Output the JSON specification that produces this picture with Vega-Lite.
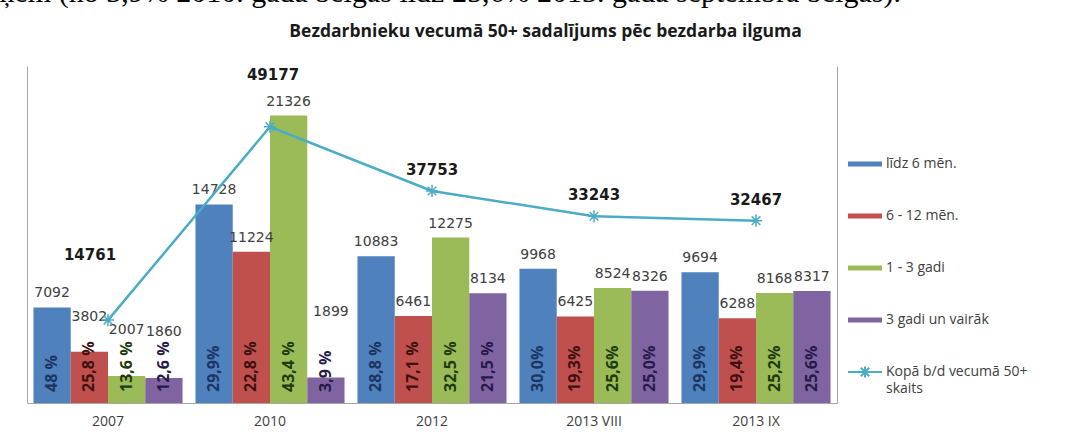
{
  "$schema": "https://vega.github.io/schema/vega-lite/v6.json",
  "width": 810,
  "height": 337,
  "autosize": {"type": "none"},
  "padding": {"left": 27, "top": 66, "right": 239, "bottom": 29},
  "background": "white",
  "config": {"view": {"stroke": null}, "font": "Open Sans"},
  "datasets": {
    "bars": [
      {"cat": "2007", "series": "līdz 6 mēn.", "v": 7092, "pct": "48 %"},
      {"cat": "2007", "series": "6 - 12 mēn.", "v": 3802, "pct": "25,8 %"},
      {"cat": "2007", "series": "1 - 3 gadi", "v": 2007, "pct": "13,6 %"},
      {"cat": "2007", "series": "3 gadi un vairāk", "v": 1860, "pct": "12,6 %"},
      {"cat": "2010", "series": "līdz 6 mēn.", "v": 14728, "pct": "29,9%"},
      {"cat": "2010", "series": "6 - 12 mēn.", "v": 11224, "pct": "22,8 %"},
      {"cat": "2010", "series": "1 - 3 gadi", "v": 21326, "pct": "43,4 %"},
      {"cat": "2010", "series": "3 gadi un vairāk", "v": 1899, "pct": "3,9 %"},
      {"cat": "2012", "series": "līdz 6 mēn.", "v": 10883, "pct": "28,8 %"},
      {"cat": "2012", "series": "6 - 12 mēn.", "v": 6461, "pct": "17,1 %"},
      {"cat": "2012", "series": "1 - 3 gadi", "v": 12275, "pct": "32,5 %"},
      {"cat": "2012", "series": "3 gadi un vairāk", "v": 8134, "pct": "21,5 %"},
      {"cat": "2013 VIII", "series": "līdz 6 mēn.", "v": 9968, "pct": "30,0%"},
      {"cat": "2013 VIII", "series": "6 - 12 mēn.", "v": 6425, "pct": "19,3%"},
      {"cat": "2013 VIII", "series": "1 - 3 gadi", "v": 8524, "pct": "25,6%"},
      {"cat": "2013 VIII", "series": "3 gadi un vairāk", "v": 8326, "pct": "25,0%"},
      {"cat": "2013 IX", "series": "līdz 6 mēn.", "v": 9694, "pct": "29,9%"},
      {"cat": "2013 IX", "series": "6 - 12 mēn.", "v": 6288, "pct": "19,4%"},
      {"cat": "2013 IX", "series": "1 - 3 gadi", "v": 8168, "pct": "25,2%"},
      {"cat": "2013 IX", "series": "3 gadi un vairāk", "v": 8317, "pct": "25,6%"}
    ],
    "total": [
      {"cat": "2007", "total": 14761},
      {"cat": "2010", "total": 49177},
      {"cat": "2012", "total": 37753},
      {"cat": "2013 VIII", "total": 33243},
      {"cat": "2013 IX", "total": 32467}
    ]
  },
  "encoding": {
    "x": {
      "field": "cat",
      "type": "nominal",
      "sort": ["2007", "2010", "2012", "2013 VIII", "2013 IX"],
      "scale": {"paddingInner": 0.08, "paddingOuter": 0.04},
      "axis": {
        "title": null,
        "ticks": false,
        "domainColor": "#a6a6a6",
        "labelFont": "Open Sans",
        "labelFontSize": 14,
        "labelColor": "#404040",
        "labelPadding": 11,
        "labelAngle": 0
      }
    }
  },
  "layer": [
    {
      "data": {"name": "bars"},
      "encoding": {
        "xOffset": {
          "field": "series",
          "type": "nominal",
          "sort": ["līdz 6 mēn.", "6 - 12 mēn.", "1 - 3 gadi", "3 gadi un vairāk"],
          "scale": {"paddingInner": 0, "paddingOuter": 0}
        },
        "y": {
          "field": "v",
          "type": "quantitative",
          "scale": {"domain": [0, 25000], "nice": false},
          "axis": {
            "orient": "left",
            "title": "Bezdarbnieku vecumā 50+  sadalījums pēc bezdarba ilguma",
            "titleAngle": 0,
            "titleX": 518,
            "titleY": -30,
            "titleAlign": "center",
            "titleBaseline": "alphabetic",
            "titleFont": "Open Sans",
            "titleFontWeight": "bold",
            "titleFontSize": 17.5,
            "titleColor": "#1a1a1a",
            "labels": false,
            "ticks": false,
            "grid": false,
            "domainColor": "#a6a6a6"
          }
        }
      },
      "layer": [
        {
          "mark": {"type": "bar"},
          "encoding": {
            "color": {
              "field": "series",
              "type": "nominal",
              "scale": {
                "domain": ["līdz 6 mēn.", "6 - 12 mēn.", "1 - 3 gadi", "3 gadi un vairāk", "Kopā b/d vecumā 50+ skaits"],
                "range": ["#4f81bd", "#c0504d", "#9bbb59", "#8064a2", "#4bacc6"]
              },
              "legend": {
                "orient": "none",
                "legendX": 820,
                "legendY": 80,
                "title": null,
                "padding": 0,
                "symbolSize": 1156,
                "rowPadding": 27,
                "labelFont": "Open Sans",
                "labelFontSize": 14,
                "labelColor": "#404040",
                "labelOffset": 3,
                "labelLimit": 300,
                "labelExpr": "datum.value === 'Kopā b/d vecumā 50+ skaits' ? ['Kopā b/d vecumā 50+', 'skaits'] : datum.label",
                "encode": {
                  "symbols": {
                    "update": {
                      "shape": {"signal": "datum.value === 'Kopā b/d vecumā 50+ skaits' ? 'M-1,0H1M-0.25,-0.25L0.25,0.25M-0.25,0.25L0.25,-0.25M0,-0.32V0.32' : 'M-1,-0.15H1V0.15H-1Z'"},
                      "fill": {"signal": "datum.value === 'Kopā b/d vecumā 50+ skaits' ? 'transparent' : scale('color', datum.value)"},
                      "stroke": {"signal": "datum.value === 'Kopā b/d vecumā 50+ skaits' ? '#4bacc6' : 'transparent'"},
                      "strokeWidth": {"value": 2},
                      "opacity": {"value": 1}
                    }
                  },
                  "labels": {
                    "update": {
                      "lineHeight": {"value": 17}
                    }
                  }
                }
              }
            }
          }
        },
        {
          "transform": [{"filter": "!(datum.cat == '2007' && datum.series != 'līdz 6 mēn.') && !(datum.cat == '2010' && datum.series == '3 gadi un vairāk')"}],
          "mark": {"type": "text", "font": "DejaVu Sans", "fontSize": 14, "color": "#404040", "baseline": "middle", "dy": -14},
          "encoding": {"text": {"field": "v", "type": "quantitative", "format": "d"}}
        },
        {
          "transform": [{"filter": "datum.cat == '2007' && datum.series == '6 - 12 mēn.'"}],
          "mark": {"type": "text", "font": "DejaVu Sans", "fontSize": 14, "color": "#404040", "baseline": "middle", "dy": -35},
          "encoding": {"text": {"field": "v", "type": "quantitative", "format": "d"}}
        },
        {
          "transform": [{"filter": "datum.cat == '2007' && (datum.series == '1 - 3 gadi' || datum.series == '3 gadi un vairāk')"}],
          "mark": {"type": "text", "font": "DejaVu Sans", "fontSize": 14, "color": "#404040", "baseline": "middle", "dy": -46},
          "encoding": {"text": {"field": "v", "type": "quantitative", "format": "d"}}
        },
        {
          "transform": [{"filter": "datum.cat == '2010' && datum.series == '3 gadi un vairāk'"}],
          "mark": {"type": "text", "font": "DejaVu Sans", "fontSize": 14, "color": "#404040", "baseline": "middle", "dy": -65, "dx": 5},
          "encoding": {"text": {"field": "v", "type": "quantitative", "format": "d"}}
        },
        {
          "mark": {"type": "text", "font": "Open Sans", "fontWeight": "bold", "fontSize": 16, "angle": 270, "align": "left", "baseline": "middle", "dx": 11},
          "encoding": {
            "y": {"datum": 0},
            "text": {"field": "pct", "type": "nominal"},
            "color": {
              "condition": [
                {"test": "datum.series == 'līdz 6 mēn.'", "value": "#1c3560"},
                {"test": "datum.series == '6 - 12 mēn.'", "value": "#3d1010"},
                {"test": "datum.series == '1 - 3 gadi'", "value": "#1d3a0c"}
              ],
              "value": "#251a48"
            }
          }
        }
      ]
    },
    {
      "data": {"name": "total"},
      "encoding": {
        "y": {
          "field": "total",
          "type": "quantitative",
          "scale": {"domain": [0, 60000], "nice": false},
          "axis": {
            "orient": "right",
            "title": "ņem (no 3,9% 2010. gada beigās līdz 25,6% 2013. gada septembra beigās).",
            "titleAngle": 0,
            "titleX": -838,
            "titleY": -65,
            "titleAlign": "left",
            "titleBaseline": "alphabetic",
            "titleFont": "Liberation Serif",
            "titleFontSize": 30,
            "titleFontWeight": "normal",
            "titleColor": "#000000",
            "labels": false,
            "ticks": false,
            "grid": false,
            "domainColor": "#a6a6a6"
          }
        }
      },
      "layer": [
        {"mark": {"type": "line", "color": "#4bacc6", "strokeWidth": 2.5}},
        {
          "mark": {
            "type": "point",
            "shape": "M-1,0H1M0,-1V1M-0.7,-0.7L0.7,0.7M-0.7,0.7L0.7,-0.7",
            "filled": false,
            "stroke": "#4bacc6",
            "strokeWidth": 1.5,
            "size": 150,
            "opacity": 1
          }
        },
        {
          "transform": [{"filter": "datum.cat == '2007'"}],
          "mark": {"type": "text", "font": "DejaVu Sans", "fontWeight": "bold", "fontSize": 15, "color": "#1a1a1a", "baseline": "middle", "dx": -18, "dy": -65},
          "encoding": {"text": {"field": "total", "type": "quantitative", "format": "d"}}
        },
        {
          "transform": [{"filter": "datum.cat == '2010'"}],
          "mark": {"type": "text", "font": "DejaVu Sans", "fontWeight": "bold", "fontSize": 15, "color": "#1a1a1a", "baseline": "middle", "dx": 3, "dy": -52},
          "encoding": {"text": {"field": "total", "type": "quantitative", "format": "d"}}
        },
        {
          "transform": [{"filter": "datum.cat != '2007' && datum.cat != '2010'"}],
          "mark": {"type": "text", "font": "DejaVu Sans", "fontWeight": "bold", "fontSize": 15, "color": "#1a1a1a", "baseline": "middle", "dy": -21},
          "encoding": {"text": {"field": "total", "type": "quantitative", "format": "d"}}
        }
      ]
    }
  ],
  "resolve": {"scale": {"y": "independent"}}
}
